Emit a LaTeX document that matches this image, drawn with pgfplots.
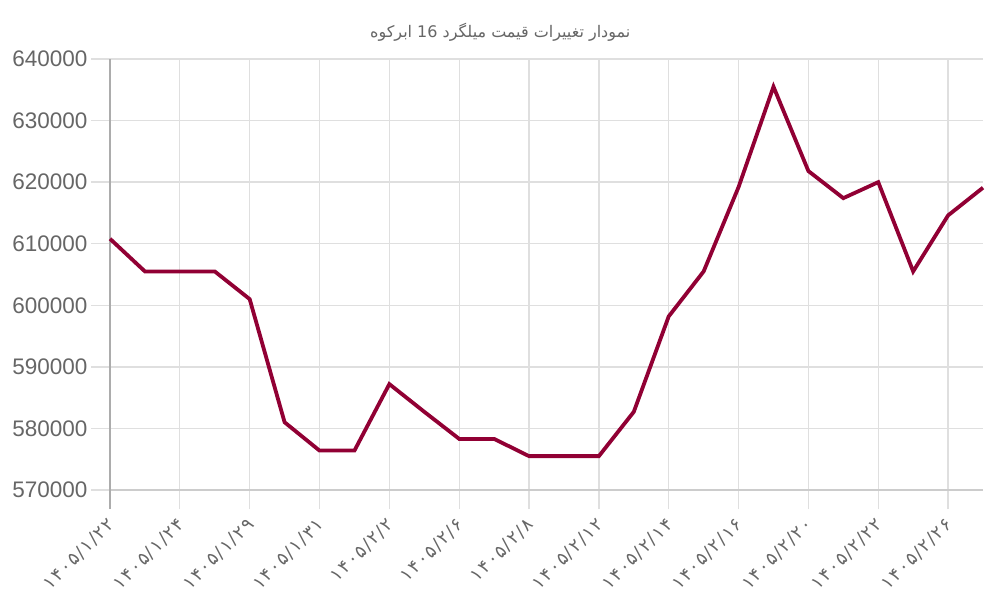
\documentclass[border=0pt]{standalone}
\usepackage{pgfplots}
\pgfplotsset{compat=1.18}
\usepackage{fontspec}
\setmainfont{Liberation Sans}
\newfontfamily\arabicfont[Script=Arabic]{DejaVu Sans}
\newfontfamily\digfont[LetterSpace=8]{DejaVu Sans}
\TeXXeTstate=1
\definecolor{linec}{RGB}{145,0,52}
\definecolor{gridc}{RGB}{223,223,223}
\definecolor{txtc}{RGB}{102,102,102}
\begin{document}
\begin{tikzpicture}
\useasboundingbox (0,0) rectangle (1000pt,600pt);
\begin{axis}[
  at={(110pt,110pt)}, anchor=south west,
  scale only axis, width=873pt, height=431pt,
  xmin=0, xmax=25, ymin=570000, ymax=640000,
  axis lines=left,
  x axis line style={-, draw=gridc!80!gray, line width=1.3pt},
  y axis line style={-, draw=gray!65, line width=1.3pt},
  grid=major, major grid style={draw=gridc, line width=1.3pt},
  tick align=outside, major tick length=19pt,
  tick style={draw=gridc, line width=1.3pt},
  xtick={0,2,...,24},
  xticklabels={۱۴۰۵/۱/۲۲,۱۴۰۵/۱/۲۴,۱۴۰۵/۱/۲۹,۱۴۰۵/۱/۳۱,۱۴۰۵/۲/۲,۱۴۰۵/۲/۶,۱۴۰۵/۲/۸,۱۴۰۵/۲/۱۲,۱۴۰۵/۲/۱۴,۱۴۰۵/۲/۱۶,۱۴۰۵/۲/۲۰,۱۴۰۵/۲/۲۲,۱۴۰۵/۲/۲۶},
  xticklabel style={font=\digfont\fontsize{18}{20}\selectfont, text=txtc, yshift=-12pt, xshift=2pt, rotate=45, anchor=east, inner sep=1pt},
  ytick={570000,580000,...,640000},
  yticklabel style={font=\fontsize{22.5}{26}\selectfont, text=txtc},
  scaled y ticks=false,
  /pgf/number format/assume math mode=true,
  yticklabel={\pgfmathprintnumber[fixed,1000 sep={}]{\tick}},
  title={\arabicfont\beginR نمودار تغییرات قیمت میلگرد \beginL 16\endL{} ابرکوه\endR},
  title style={at={(0.447,1)}, anchor=center, yshift=21pt, font=\fontsize{16}{18}\selectfont, text=txtc},
  clip=false,
]
\addplot[linec, line width=3.8pt, line join=miter, line cap=butt] coordinates {
(0,610800) (1,605500) (2,605500) (3,605500) (4,601000)
(5,581000) (6,576400) (7,576400) (8,587200) (9,582700)
(10,578300) (11,578300) (12,575500) (13,575500) (14,575500)
(15,582700) (16,598200) (17,605500) (18,619200) (19,635500)
(20,621800) (21,617400) (22,620000) (23,605500) (24,614600)
(25,619100)};
\draw[gray!65, line width=1.3pt] (axis cs:0,570000) -- ([yshift=-19pt]axis cs:0,570000);
\end{axis}
\end{tikzpicture}
\end{document}
